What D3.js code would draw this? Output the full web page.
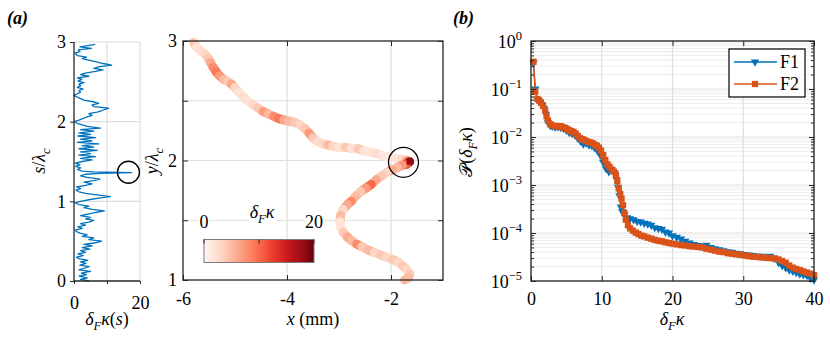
<!DOCTYPE html>
<html><head><meta charset="utf-8">
<script src="https://cdn.jsdelivr.net/npm/d3@7"></script>
<style>
body{margin:0;background:#fff;}
svg{display:block;}
</style></head><body>
<svg id="c" width="830" height="343"></svg>
<script>
// ---------------- DATA ----------------
const stripS = [0.00,0.02,0.04,0.06,0.08,0.10,0.12,0.14,0.16,0.18,0.20,0.22,0.24,0.26,0.28,0.30,0.32,0.34,0.36,0.38,0.40,0.42,0.44,0.46,0.48,0.50,0.52,0.54,0.56,0.58,0.60,0.62,0.64,0.66,0.68,0.70,0.72,0.74,0.76,0.78,0.80,0.82,0.84,0.86,0.88,0.90,0.92,0.94,0.96,0.98,1.00,1.02,1.04,1.06,1.08,1.10,1.12,1.14,1.16,1.18,1.20,1.22,1.24,1.26,1.28,1.30,1.32,1.34,1.35,1.36,1.37,1.38,1.40,1.42,1.44,1.46,1.48,1.50,1.52,1.54,1.56,1.58,1.60,1.62,1.64,1.66,1.68,1.70,1.72,1.74,1.76,1.78,1.80,1.82,1.84,1.86,1.88,1.90,1.92,1.94,1.96,1.98,2.00,2.02,2.04,2.06,2.08,2.10,2.12,2.14,2.17,2.19,2.21,2.23,2.25,2.27,2.29,2.31,2.33,2.35,2.37,2.39,2.41,2.43,2.45,2.47,2.49,2.51,2.53,2.55,2.57,2.59,2.61,2.63,2.65,2.67,2.69,2.71,2.73,2.75,2.77,2.79,2.81,2.83,2.86,2.88,2.90,2.92,2.94,2.97];
const stripK = [4.6,2.0,4.0,1.5,3.8,2.2,5.0,1.5,3.0,4.6,1.8,3.6,2.0,4.2,1.5,0.8,2.8,1.2,3.5,2.0,4.8,2.5,5.5,3.0,6.5,8.4,4.5,6.0,2.5,4.0,1.8,0.8,0.3,2.5,1.2,3.5,2.0,4.5,6.0,3.5,5.0,2.0,4.2,6.5,9.2,5.5,3.0,4.5,1.5,0.3,2.0,4.5,7.5,11.0,7.0,3.5,1.5,0.6,2.0,0.8,3.5,5.5,3.0,6.0,7.9,4.0,2.0,3.5,8.0,17.5,6.0,2.5,1.0,2.0,0.5,1.8,0.4,2.5,5.5,2.0,6.5,1.5,5.0,2.0,7.0,1.5,6.0,2.5,7.5,1.0,5.5,2.0,6.5,1.2,5.0,1.5,6.0,2.0,8.0,4.0,2.5,1.0,0.0,1.5,2.8,4.0,5.5,4.5,7.0,8.5,10.5,6.0,5.5,7.5,5.8,3.0,2.0,0.8,0.0,1.0,2.0,1.5,2.8,1.0,2.0,1.5,3.0,1.2,2.4,1.0,4.5,2.0,3.4,6.5,8.8,6.0,7.8,11.4,8.8,6.8,4.8,2.5,3.8,1.0,0.3,1.8,1.3,5.3,1.8,6.4];

const trajX = [-5.80,-5.74,-5.66,-5.58,-5.52,-5.47,-5.42,-5.36,-5.30,-5.22,-5.14,-5.07,-5.00,-4.92,-4.84,-4.76,-4.66,-4.56,-4.46,-4.36,-4.26,-4.16,-4.06,-3.96,-3.86,-3.76,-3.66,-3.58,-3.50,-3.42,-3.32,-3.22,-3.12,-3.00,-2.88,-2.76,-2.64,-2.52,-2.40,-2.28,-2.16,-2.04,-1.92,-1.80,-1.70,-1.64,-1.70,-1.78,-1.88,-1.98,-2.08,-2.18,-2.28,-2.38,-2.48,-2.58,-2.68,-2.76,-2.84,-2.92,-2.97,-2.98,-2.97,-2.92,-2.84,-2.76,-2.66,-2.56,-2.44,-2.32,-2.20,-2.08,-1.96,-1.86,-1.78,-1.70,-1.64,-1.66,-1.74];
const trajY = [2.99,2.95,2.92,2.89,2.86,2.82,2.78,2.74,2.71,2.68,2.66,2.64,2.61,2.57,2.53,2.50,2.47,2.44,2.41,2.39,2.37,2.35,2.34,2.33,2.32,2.30,2.27,2.23,2.19,2.16,2.14,2.13,2.12,2.11,2.11,2.10,2.10,2.08,2.07,2.06,2.04,2.03,2.02,2.01,2.00,1.99,1.97,1.96,1.94,1.92,1.90,1.87,1.84,1.80,1.77,1.74,1.70,1.66,1.63,1.59,1.54,1.49,1.44,1.40,1.36,1.33,1.30,1.28,1.25,1.23,1.21,1.19,1.17,1.15,1.12,1.09,1.05,1.02,1.00];
const trajK = [4,2,2.5,3,4,6,8,9,7,5,4,6,3,2,2.5,2,3,4,7,5,8,9,6,5,4,3,4,7,4,2.5,3,5,3,2,4,2,4,2,2,2.5,1.5,1.5,2,3,7,18,11,7,5,6,3,4,6,10,7,4,5,8,6,3,5,2,2,4,6,5,8,4,5,3,4,3,4,3,4,3,4,5,3];

const binsF1 = [0.35,0.6,0.9,1.2,1.5,1.8,2.1,2.4,2.7,3.0,3.4,3.8,4.2,4.6,5.0,5.4,5.8,6.2,6.6,7.0,7.4,7.8,8.2,8.6,9.0,9.4,9.8,10.2,10.6,11.0,11.4,11.8,12.1,12.3,12.5,12.7,12.9,13.2,13.6,14.0,14.5,15.0,15.5,16.0,16.5,17.0,17.5,18.0,18.5,19.0,19.5,20.0,20.6,21.2,21.8,22.4,23.0,23.6,24.2,24.8,25.4,26.0,26.6,27.2,27.8,28.4,29.0,29.6,30.2,30.8,31.4,32.0,32.6,33.2,33.8,34.4,35.0,35.5,36.0,36.5,37.0,37.5,38.0,38.5,39.0,39.5,40.0];
const probF1 = [0.35,0.1,0.06,0.055,0.048,0.04,0.03,0.02,0.0175,0.0168,0.016,0.0162,0.0158,0.015,0.0138,0.0125,0.0118,0.011,0.0095,0.0082,0.0072,0.0075,0.0068,0.0066,0.006,0.0052,0.0042,0.003,0.0022,0.0019,0.0021,0.0018,0.0013,0.0009,0.0006,0.00035,0.00028,0.00024,0.00021,0.0002,0.00019,0.000175,0.00017,0.00016,0.000155,0.000145,0.00013,0.000125,0.00012,0.000105,0.0001,0.000088,0.000082,0.000075,0.000068,0.000062,0.000058,0.000055,0.000053,0.000056,0.00005,0.000047,0.000045,0.000043,0.000041,0.00004,0.000038,0.000037,0.000036,0.000035,0.000034,0.000033,0.000033,0.000032,0.000033,0.00003,0.000024,0.000021,0.000019,0.000017,0.000016,0.000015,0.000014,0.0000135,0.000013,0.0000115,0.0000105];
const binsF2 = [0.35,0.6,0.9,1.15,1.4,1.7,2.0,2.2,2.4,2.7,3.0,3.3,3.6,3.9,4.2,4.5,4.8,5.1,5.4,5.7,6.0,6.3,6.6,6.9,7.2,7.5,7.8,8.1,8.4,8.7,9.0,9.3,9.6,9.9,10.2,10.5,10.8,11.1,11.4,11.7,12.0,12.2,12.4,12.6,12.8,13.0,13.2,13.4,13.7,14.0,14.4,14.8,15.2,15.6,16.0,16.5,17.0,17.5,18.0,18.5,19.0,19.5,20.0,20.6,21.2,21.8,22.4,23.0,23.6,24.2,24.8,25.4,26.0,26.6,27.2,27.8,28.4,29.0,29.6,30.2,30.8,31.4,32.0,32.6,33.2,33.8,34.4,35.0,35.5,36.0,36.5,37.0,37.5,38.0,38.5,39.0,39.5,40.0];
const probF2 = [0.37,0.088,0.062,0.058,0.052,0.045,0.036,0.027,0.022,0.0185,0.0175,0.0168,0.017,0.0165,0.0168,0.016,0.0155,0.0148,0.0138,0.0132,0.0128,0.0118,0.0105,0.0095,0.009,0.0087,0.0082,0.0079,0.0077,0.0074,0.0069,0.0066,0.006,0.0052,0.0042,0.0033,0.0027,0.0024,0.0021,0.0019,0.0016,0.0012,0.00085,0.00065,0.00052,0.00038,0.00026,0.00019,0.000145,0.000125,0.000112,0.000102,0.000095,0.000088,0.000085,0.00008,0.000076,0.000072,0.000069,0.000067,0.000064,0.000062,0.00006,0.000058,0.000056,0.000055,0.000053,0.000052,0.000051,0.00005,0.000047,0.000045,0.000043,0.000041,0.00004,0.000038,0.000037,0.000036,0.000035,0.000034,0.000033,0.000032,0.0000318,0.000031,0.0000305,0.00003,0.0000295,0.000028,0.000026,0.000024,0.000021,0.000019,0.0000178,0.0000168,0.0000158,0.000015,0.0000142,0.0000132];

const seriesNames = ["F1","F2"];
const stripXTicks = [0,10,20], stripXLabels = [0,20], stripYTicks = [0,1,2,3];
const trajXTicks = [-6,-4,-2], trajYTicks = [1,1.5,2,2.5,3], trajYLabels = [1,2,3];
const cbTicks = [0,10,20], cbLabels = [0,20];
const pdfXTicks = [0,10,20,30,40], pdfYTicks = [1e-5,1e-4,1e-3,1e-2,1e-1,1];

// ---------------- STYLE ----------------
const AX = "#262626", GRID = "#dedede", MINOR = "#ececec";
const BLUE = "#0072BD", ORANGE = "#D95319";
const FS = 18;
const svg = d3.select("#c");

function rich(sel, parts, size) {
  let shift = 0;
  parts.forEach(([t, o = {}]) => {
    const ts = sel.append("tspan").text(t);
    if (o.i) ts.style("font-style", "italic");
    if (o.b) ts.style("font-weight", "bold");
    let target = 0;
    if (o.sub) target = size * 0.3;
    if (o.sup) target = -size * 0.45;
    if (o.sub || o.sup) ts.style("font-size", (size * 0.7) + "px");
    ts.attr("dy", target - shift);
    shift = target;
  });
}
function deltaFk(sel, size, extra) {
  const p = [["δ", {i: 1}], ["F", {i: 1, sub: 1}], ["κ", {i: 1}]];
  rich(sel, extra ? p.concat(extra) : p, size);
}
function styleAxis(g) {
  g.select(".domain").remove();
  g.selectAll(".tick line").attr("stroke", AX).attr("stroke-width", 1);
  g.selectAll(".tick text").attr("fill", "#000").style("font-size", FS + "px");
}
function label(x, y, rot) {
  const t = svg.append("text").attr("text-anchor", "middle").style("font-size", FS + "px");
  if (rot) t.attr("transform", `translate(${x},${y}) rotate(-90)`); else t.attr("x", x).attr("y", y);
  return t;
}

// ---------------- (a) left strip ----------------
const xS = d3.scaleLinear().domain([0, 20]).range([74, 140]);
const yS = d3.scaleLinear().domain([0, 3]).range([281, 42]);
const gS = svg.append("g");
gS.selectAll(".gv").data([10, 20]).join("line")
  .attr("x1", d => xS(d)).attr("x2", d => xS(d)).attr("y1", yS(0)).attr("y2", yS(3))
  .attr("stroke", GRID).attr("stroke-width", 1.2);
gS.selectAll(".gh").data([1, 2, 3]).join("line")
  .attr("y1", d => yS(d)).attr("y2", d => yS(d)).attr("x1", xS(0)).attr("x2", xS(20))
  .attr("stroke", GRID).attr("stroke-width", 1.2);
gS.append("path").datum(stripS.map((s, i) => [stripK[i], s]))
  .attr("fill", "none").attr("stroke", BLUE).attr("stroke-width", 1.3).attr("stroke-linejoin", "round")
  .attr("d", d3.line().x(d => xS(d[0])).y(d => yS(d[1])));
gS.append("g").attr("transform", `translate(${xS(0)},0)`)
  .call(d3.axisLeft(yS).tickValues(stripYTicks).tickFormat(d3.format("d")).tickSize(4).tickPadding(4)).call(styleAxis);
gS.append("g").attr("transform", `translate(0,${yS(0)})`)
  .call(d3.axisBottom(xS).tickValues(stripXTicks).tickFormat(d => stripXLabels.includes(d) ? d : "").tickSize(3).tickPadding(12)).call(styleAxis);
gS.append("line").attr("x1", xS(0)).attr("x2", xS(0)).attr("y1", yS(0)).attr("y2", yS(3)).attr("stroke", AX).attr("stroke-width", 1.3);
gS.append("line").attr("x1", xS(0)).attr("x2", xS(20)).attr("y1", yS(0)).attr("y2", yS(0)).attr("stroke", AX).attr("stroke-width", 1.3);
gS.append("circle").attr("cx", xS(16.5)).attr("cy", yS(1.365)).attr("r", 11)
  .attr("fill", "none").attr("stroke", "#000").attr("stroke-width", 1.3);
deltaFk(label(107, 325), FS, [["(", {}], ["s", {i: 1}], [")", {}]]);
rich(label(45, 161, true), [["s", {i: 1}], ["/", {}], ["λ", {i: 1}], ["c", {i: 1, sub: 1}]], FS);

// ---------------- (a) right trajectory ----------------
const xM = d3.scaleLinear().domain([-6, -1]).range([183, 443]);
const yM = d3.scaleLinear().domain([1, 3]).range([280, 41]);
const gM = svg.append("g");
gM.selectAll(".gv").data([-4, -2]).join("line")
  .attr("x1", d => xM(d)).attr("x2", d => xM(d)).attr("y1", yM(1)).attr("y2", yM(3))
  .attr("stroke", GRID).attr("stroke-width", 1.2);
gM.selectAll(".gh").data([1.5, 2, 2.5]).join("line")
  .attr("y1", d => yM(d)).attr("y2", d => yM(d)).attr("x1", xM(-6)).attr("x2", xM(-1))
  .attr("stroke", GRID).attr("stroke-width", 1.2);
const cmap = d3.scaleSequential(d3.interpolateReds).domain([0, 20]);
const segs = trajX.slice(0, -1).map((x, i) => ({x1: x, y1: trajY[i], x2: trajX[i + 1], y2: trajY[i + 1], k: trajK[i]}));
gM.selectAll(".seg").data(segs).join("line")
  .attr("x1", d => xM(d.x1)).attr("y1", d => yM(d.y1)).attr("x2", d => xM(d.x2)).attr("y2", d => yM(d.y2))
  .attr("stroke", d => cmap(d.k)).attr("stroke-width", 9).attr("stroke-linecap", "round");
const iMax = d3.maxIndex(trajK);
gM.append("rect").attr("x", xM(trajX[iMax]) - 3).attr("y", yM(trajY[iMax]) - 3).attr("width", 6).attr("height", 6)
  .attr("fill", cmap(trajK[iMax]));
gM.append("circle").attr("cx", xM(-1.76)).attr("cy", yM(1.985)).attr("r", 15)
  .attr("fill", "none").attr("stroke", "#000").attr("stroke-width", 1.3);
// colorbar
const cbX = d3.scaleLinear().domain([0, 20]).range([204, 314]);
const defs = svg.append("defs");
const lg = defs.append("linearGradient").attr("id", "cbg");
d3.range(0, 1.0001, 0.05).forEach(t => lg.append("stop").attr("offset", t).attr("stop-color", d3.interpolateReds(t)));
const cbLabG = gM.append("g");
function bgText(x, y, builder) {
  const t = cbLabG.append("text").attr("x", x).attr("y", y).attr("text-anchor", "middle").style("font-size", FS + "px")
    .style("font-family", "'Liberation Serif'");
  builder(t);
  const b = t.node().getBBox();
  cbLabG.insert("rect", "text").attr("x", b.x - 1).attr("y", b.y + 2).attr("width", b.width + 2).attr("height", b.height - 3).attr("fill", "#fff");
}
cbLabels.forEach(v => bgText(cbX(v), 228, t => t.text(v)));
bgText(262, 218, t => deltaFk(t, FS));
gM.append("rect").attr("x", cbX(0)).attr("y", 239.5).attr("width", cbX(20) - cbX(0)).attr("height", 23)
  .attr("fill", "url(#cbg)").attr("stroke", "#7a7a7a").attr("stroke-width", 1);
gM.selectAll(".cbt").data(cbTicks).join("line")
  .attr("x1", d => cbX(d)).attr("x2", d => cbX(d)).attr("y1", 239.5).attr("y2", 243.5)
  .attr("stroke", "#262626").attr("stroke-width", 1);
gM.append("g").attr("transform", `translate(${xM(-6)},0)`)
  .call(d3.axisLeft(yM).tickValues(trajYTicks).tickFormat(d => trajYLabels.includes(d) ? d : "").tickSizeInner(-5).tickSizeOuter(0).tickPadding(6)).call(styleAxis);
gM.append("g").attr("transform", `translate(${xM(-1)},0)`)
  .call(d3.axisRight(yM).tickValues(trajYTicks).tickFormat("").tickSizeInner(-5).tickSizeOuter(0)).call(styleAxis);
gM.append("g").attr("transform", `translate(0,${yM(1)})`)
  .call(d3.axisBottom(xM).tickValues(trajXTicks).tickFormat(d => d3.format("d")(d).replace("−", "-")).tickSizeInner(-5).tickSizeOuter(0).tickPadding(12)).call(styleAxis);
gM.append("g").attr("transform", `translate(0,${yM(3)})`)
  .call(d3.axisTop(xM).tickValues(trajXTicks).tickFormat("").tickSizeInner(-5).tickSizeOuter(0)).call(styleAxis);
gM.append("rect").attr("x", xM(-6)).attr("y", yM(3)).attr("width", xM(-1) - xM(-6)).attr("height", yM(1) - yM(3))
  .attr("fill", "none").attr("stroke", AX).attr("stroke-width", 1.3);
rich(label(313, 325), [["x", {i: 1}], [" (mm)", {}]], FS);
rich(label(158, 161, true), [["y", {i: 1}], ["/", {}], ["λ", {i: 1}], ["c", {i: 1, sub: 1}]], FS);

// ---------------- (b) PDFs ----------------
const xB = d3.scaleLinear().domain([0, 40]).range([531, 814]);
const yB = d3.scaleLog().domain([1e-5, 1]).range([281, 41]);
const gB = svg.append("g");
const minorVals = [];
pdfYTicks.slice(0, -1).forEach(dec => [2,3,4,5,6,7,8,9].forEach(m => minorVals.push(dec * m)));
gB.selectAll(".gm").data(minorVals).join("line")
  .attr("y1", d => yB(d)).attr("y2", d => yB(d)).attr("x1", xB(0)).attr("x2", xB(40))
  .attr("stroke", MINOR).attr("stroke-width", 1);
gB.selectAll(".gh").data(pdfYTicks).join("line")
  .attr("y1", d => yB(d)).attr("y2", d => yB(d)).attr("x1", xB(0)).attr("x2", xB(40))
  .attr("stroke", GRID).attr("stroke-width", 1.2);
gB.selectAll(".gv").data(pdfXTicks).join("line")
  .attr("x1", d => xB(d)).attr("x2", d => xB(d)).attr("y1", yB(1e-5)).attr("y2", yB(1))
  .attr("stroke", GRID).attr("stroke-width", 1.2);
const series = [
  {name: seriesNames[0], bins: binsF1, p: probF1, color: BLUE, sym: "tri"},
  {name: seriesNames[1], bins: binsF2, p: probF2, color: ORANGE, sym: "sq"}
];
const sqSym = d3.symbol().type(d3.symbolSquare).size(40);
const triSym = d3.symbol().type(d3.symbolTriangle).size(30);
series.forEach(s => {
  const pts = s.bins.map((b, i) => [b, s.p[i]]);
  gB.append("path").datum(pts).attr("fill", "none").attr("stroke", s.color).attr("stroke-width", 1.4)
    .attr("d", d3.line().x(d => xB(d[0])).y(d => yB(d[1])));
  gB.selectAll(null).data(pts).join("path")
    .attr("transform", d => `translate(${xB(d[0])},${yB(d[1])})` + (s.sym === "tri" ? " rotate(180)" : ""))
    .attr("d", s.sym === "tri" ? triSym : sqSym).attr("fill", s.color);
});
gB.append("g").attr("transform", `translate(${xB(0)},0)`)
  .call(d3.axisLeft(yB).tickValues(minorVals).tickFormat("").tickSizeInner(-3).tickSizeOuter(0)).call(styleAxis);
gB.append("g").attr("transform", `translate(${xB(40)},0)`)
  .call(d3.axisRight(yB).tickValues(minorVals).tickFormat("").tickSizeInner(-3).tickSizeOuter(0)).call(styleAxis);
const yAx = gB.append("g").attr("transform", `translate(${xB(0)},0)`)
  .call(d3.axisLeft(yB).tickValues(pdfYTicks).tickFormat(() => "").tickSizeInner(-5).tickSizeOuter(0).tickPadding(9)).call(styleAxis);
yAx.selectAll(".tick text").each(function(d) {
  const e = Math.round(Math.log10(d));
  const t = d3.select(this).text(null).attr("dy", "0.36em");
  t.append("tspan").text("10");
  t.append("tspan").text(e === 0 ? "0" : "−" + (-e)).style("font-size", "12.5px").attr("dy", -8);
});
gB.append("g").attr("transform", `translate(${xB(40)},0)`)
  .call(d3.axisRight(yB).tickValues(pdfYTicks).tickFormat("").tickSizeInner(-5).tickSizeOuter(0)).call(styleAxis);
gB.append("g").attr("transform", `translate(0,${yB(1e-5)})`)
  .call(d3.axisBottom(xB).tickValues(pdfXTicks).tickFormat(d3.format("d")).tickSizeInner(-5).tickSizeOuter(0).tickPadding(11)).call(styleAxis);
gB.append("g").attr("transform", `translate(0,${yB(1)})`)
  .call(d3.axisTop(xB).tickValues(pdfXTicks).tickFormat("").tickSizeInner(-5).tickSizeOuter(0)).call(styleAxis);
gB.append("rect").attr("x", xB(0)).attr("y", yB(1)).attr("width", xB(40) - xB(0)).attr("height", yB(1e-5) - yB(1))
  .attr("fill", "none").attr("stroke", AX).attr("stroke-width", 1.3);
const lgG = gB.append("g");
lgG.append("rect").attr("x", 729).attr("y", 49).attr("width", 76).attr("height", 48)
  .attr("fill", "#fff").attr("stroke", "#000").attr("stroke-width", 1.2);
series.forEach((s, i) => {
  const yy = 62 + i * 22;
  lgG.append("line").attr("x1", 734).attr("x2", 777).attr("y1", yy).attr("y2", yy).attr("stroke", s.color).attr("stroke-width", 1.4);
  lgG.append("path").attr("transform", `translate(755,${yy})` + (s.sym === "tri" ? " rotate(180)" : ""))
    .attr("d", s.sym === "tri" ? triSym : sqSym).attr("fill", s.color);
  lgG.append("text").attr("x", 780).attr("y", yy).attr("dy", "0.35em").style("font-size", FS + "px").text(s.name);
});
deltaFk(label(672, 325), FS);
rich(label(472, 152, true), [["𝒫", {}], ["(", {}], ["δ", {i: 1}], ["F", {i: 1, sub: 1}], ["κ", {i: 1}], [")", {}]], FS);

rich(svg.append("text").attr("x", 7).attr("y", 24).style("font-size", FS + "px"), [["(", {i: 1, b: 1}], ["a", {i: 1, b: 1}], [")", {i: 1, b: 1}]], FS);
rich(svg.append("text").attr("x", 453).attr("y", 24).style("font-size", FS + "px"), [["(", {i: 1, b: 1}], ["b", {i: 1, b: 1}], [")", {i: 1, b: 1}]], FS);

// serif font on every text (inline style)
svg.selectAll("text").style("font-family", "'Liberation Serif'");
</script>
</body></html>
